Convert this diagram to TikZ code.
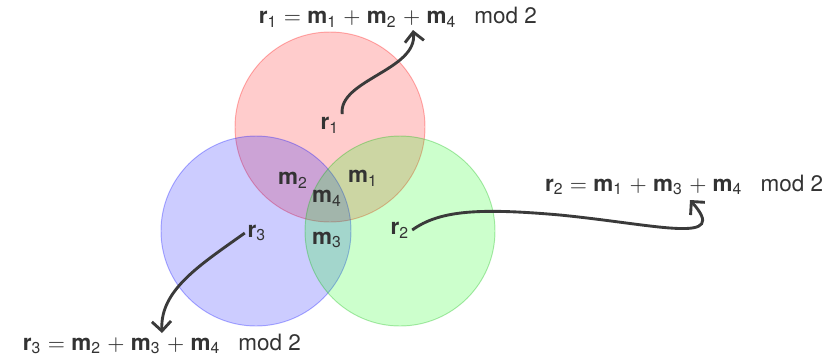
\documentclass[tikz,border=0pt]{standalone}
\usepackage{fontspec}
\setsansfont{TeX Gyre Heros}
\usepackage{tikz}
\usetikzlibrary{arrows.meta}
\definecolor{LabelGray}{HTML}{333333}
\definecolor{ArrowGray}{HTML}{3A3A3A}
\newcommand{\vecsub}[2]{\textbf{#1}\textsubscript{#2}}

\begin{document}
\begin{tikzpicture}[x=0.0147cm, y=-0.0147cm,
  every node/.style={font=\sffamily\fontsize{9.4}{11}\selectfont, text=LabelGray, inner sep=1pt},
  setcircle/.style={fill opacity=0.2, draw opacity=0.3, thin},
  parityarrow/.style={very thick, color=ArrowGray, -{Straight Barb[length=4pt, width=8pt]}}]
  \useasboundingbox (0,0) rectangle (827,358);

  \filldraw[setcircle, fill=red, draw=red] (330,127) circle (95);
  \filldraw[setcircle, fill=blue, draw=blue] (256,231) circle (95);
  \filldraw[setcircle, fill=green, draw=green!70!black] (400,231) circle (95);

  \node (r1) at (330,125) {\vecsub{r}{1}};
  \node (r2) at (400,230) {\vecsub{r}{2}};
  \node (r3) at (257,233) {\vecsub{r}{3}};
  \node (m1) at (363,178) {\vecsub{m}{1}};
  \node (m2) at (293,180) {\vecsub{m}{2}};
  \node (m3) at (327,240) {\vecsub{m}{3}};
  \node (m4) at (327,198) {\vecsub{m}{4}};

  \node[anchor=west] (f1) at (256,17)
  {\vecsub{r}{1} $=$ \vecsub{m}{1} $+$ \vecsub{m}{2} $+$ \vecsub{m}{4}\hspace{0.8em}mod 2};
  \node[anchor=east] (f2) at (826,185)
  {\vecsub{r}{2} $=$ \vecsub{m}{1} $+$ \vecsub{m}{3} $+$ \vecsub{m}{4}\hspace{0.8em}mod 2};
  \node[anchor=west] (f3) at (20,344)
  {\vecsub{r}{3} $=$ \vecsub{m}{2} $+$ \vecsub{m}{3} $+$ \vecsub{m}{4}\hspace{0.8em}mod 2};

  \coordinate (t1) at (413,30);
  \coordinate (t2) at (690,200);
  \coordinate (t3) at (162,333);

  \draw[parityarrow] (r1.north east) .. controls (338,80) and (418,70) .. (t1);
  \draw[parityarrow] (r2.east) .. controls (440,210) and (480,208) .. (560,215)
  .. controls (660,225) and (730,245) .. (t2);
  \draw[parityarrow] (r3.west) .. controls (200,265) and (160,290) .. (t3);
\end{tikzpicture}
\end{document}
